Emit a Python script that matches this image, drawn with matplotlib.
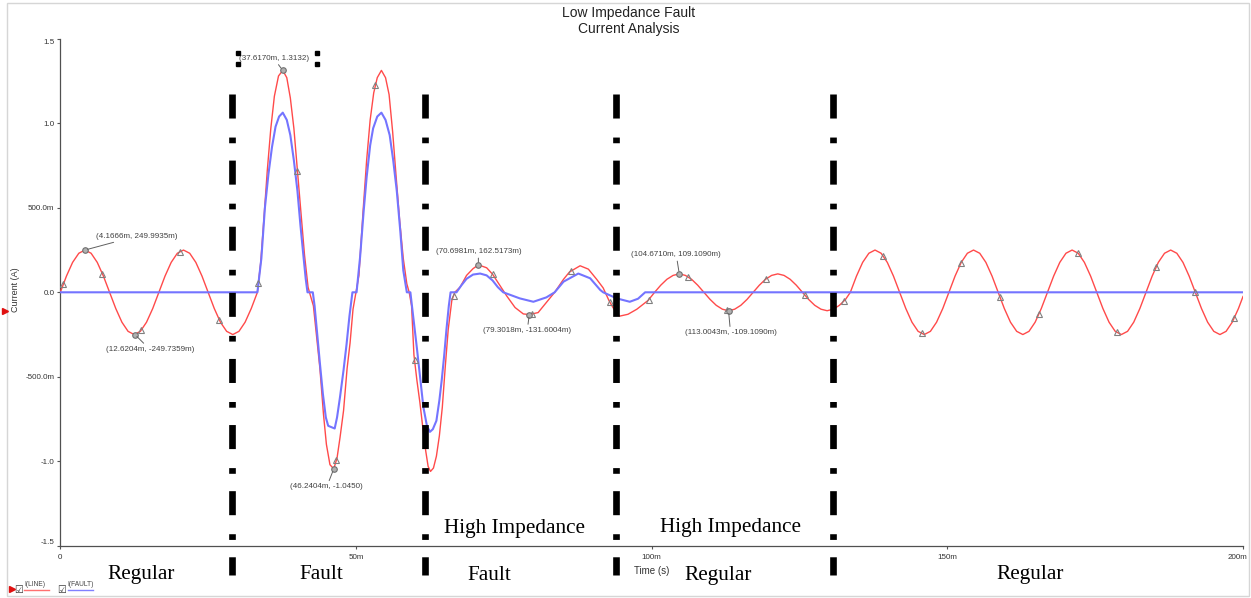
import numpy as np
import matplotlib
matplotlib.use("Agg")
import matplotlib.pyplot as plt
from matplotlib import transforms
from matplotlib.patches import Rectangle
from matplotlib.lines import Line2D

plt.rcParams["lines.scale_dashes"] = False
plt.rcParams["font.family"] = ["Liberation Sans", "DejaVu Sans"]

W, H = 1251, 598

# ---------------- data (time in ms, current in A) ----------------
# I(LINE): pre-fault, fault, post-fault, high impedance, regular
t_line = [0.00, 1.04, 2.08, 3.13, 4.17, 5.21, 6.25, 7.29, 8.33, 9.38, 10.42, 11.46,
          12.50, 13.54, 14.58, 15.63, 16.67, 17.71, 18.75, 19.79, 20.83, 21.88, 22.92,
          23.96, 25.00, 26.04, 27.08, 28.13, 29.17, 30.21, 31.25, 32.29, 33.33,
          33.9, 34.4, 35.0, 35.6, 36.2, 36.9, 37.62, 38.3, 38.9, 39.5, 40.1, 40.7, 41.3,
          41.9, 42.3, 42.8, 43.3, 43.9, 44.5, 45.0, 45.6, 46.24, 46.8, 47.3, 47.9, 48.5,
          49.0, 49.5, 50.0, 50.5, 51.2, 51.8, 52.4, 53.0, 53.6, 54.3, 55.0, 55.6, 56.2,
          56.8, 57.4, 58.0, 58.6, 59.0, 59.4, 59.8, 60.3, 60.8, 61.3, 61.8, 62.2, 62.6,
          63.1, 63.6, 64.1, 64.6, 65.1, 65.6, 66.2, 66.7,
          67.6, 68.7, 69.8, 70.7, 72.1, 73.1, 74.4, 75.5, 76.9, 78.3, 79.3, 80.8, 82.2,
          83.6, 85.1, 86.1, 87.9, 89.3, 90.7, 91.8, 92.8, 93.8, 94.6, 96.0, 97.5, 99.4,
          100.50, 101.54, 102.58, 103.63, 104.67, 105.71, 106.75, 107.79, 108.83, 109.88,
          110.92, 111.96, 113.00, 114.04, 115.08, 116.13, 117.17, 118.21, 119.25, 120.29,
          121.33, 122.38, 123.42, 124.46, 125.50, 126.54, 127.58, 128.63, 129.67, 130.71,
          131.75, 132.79,
          133.60, 134.64, 135.68, 136.73, 137.77, 138.81, 139.85, 140.89, 141.93, 142.98,
          144.02, 145.06, 146.10, 147.14, 148.18, 149.23, 150.27, 151.31, 152.35, 153.39,
          154.43, 155.48, 156.52, 157.56, 158.60, 159.64, 160.68, 161.73, 162.77, 163.81,
          164.85, 165.89, 166.93, 167.98, 169.02, 170.06, 171.10, 172.14, 173.18, 174.23,
          175.27, 176.31, 177.35, 178.39, 179.43, 180.48, 181.52, 182.56, 183.60, 184.64,
          185.68, 186.73, 187.77, 188.81, 189.85, 190.89, 191.93, 192.98, 194.02, 195.06,
          196.10, 197.14, 198.18, 199.23, 200.00]
i_line = [0, .096, .177, .231, .25, .231, .177, .096, 0, -.096, -.177, -.231,
          -.25, -.231, -.177, -.096, 0, .096, .177, .231, .25, .231, .177,
          .096, 0, -.096, -.177, -.231, -.25, -.231, -.177, -.096, 0,
          .18, .42, .72, .97, 1.16, 1.28, 1.313, 1.27, 1.15, .97, .72, .47, .22,
          .03, -.02, -.08, -.25, -.45, -.72, -.90, -1.02, -1.045, -.98, -.86, -.70, -.45,
          -.30, -.10, 0.0, .10, .48, .78, 1.02, 1.18, 1.27, 1.313, 1.27, 1.17, .95,
          .68, .42, .20, .05, 0.0, -.08, -.37, -.52, -.65, -.80, -.94, -1.03, -1.06,
          -1.04, -.97, -.85, -.68, -.44, -.22, -.05, 0.0,
          .03, .10, .14, .1625, .145, .107, .037, -.022, -.09, -.128, -.1316, -.12, -.06,
          0.0, .077, .12, .157, .137, .077, .026, -.05, -.11, -.141, -.13, -.10, -.048,
          0, .042, .077, .10, .1091, .10, .077, .042, 0, -.042,
          -.077, -.10, -.1091, -.10, -.077, -.042, 0, .042, .077, .10,
          .109, .10, .077, .042, 0, -.042, -.077, -.10, -.109, -.10,
          -.077, -.042,
          0, .096, .177, .231, .25, .231, .177, .096, 0, -.096,
          -.177, -.231, -.25, -.231, -.177, -.096, 0, .096, .177, .231,
          .25, .231, .177, .096, 0, -.096, -.177, -.231, -.25, -.231,
          -.177, -.096, 0, .096, .177, .231, .25, .231, .177, .096,
          0, -.096, -.177, -.231, -.25, -.231, -.177, -.096, 0, .096,
          .177, .231, .25, .231, .177, .096, 0, -.096, -.177, -.231,
          -.25, -.231, -.177, -.096, -.025]

# I(FAULT)
t_fault = [0.0, 33.33, 34.0, 34.6, 35.2, 35.8, 36.4, 37.0, 37.62, 38.3, 38.9, 39.5, 40.1,
           40.6, 41.1, 41.5, 41.8, 42.7, 43.0, 43.4, 43.9, 44.4, 44.9, 45.3, 46.4, 46.8,
           47.3, 47.9, 48.4, 48.9, 49.4, 50.1, 50.7, 51.3, 51.8, 52.4, 52.9, 53.6, 54.3,
           55.0, 55.7, 56.3, 56.9, 57.5, 58.0, 58.6, 59.2, 59.6, 60.3, 60.9, 61.4, 62.0,
           62.5, 63.0, 63.6, 64.1, 64.5, 64.9, 65.3, 65.7, 66.0, 67.0, 67.8, 68.7, 69.8,
           71.0, 72.1, 73.1, 74.0, 74.9, 77.7, 80.0, 82.2, 83.6, 85.1, 87.6, 89.6, 91.3,
           91.8, 94.1, 96.3, 97.7, 98.9, 200.0]
i_fault = [0.0, 0.0, .20, .50, .70, .86, .98, 1.04, 1.063, 1.02, .93, .78, .60,
           .40, .22, .08, 0.0, 0.0, -.08, -.23, -.42, -.60, -.74, -.79, -.806, -.74,
           -.62, -.46, -.31, -.14, 0.0, 0.0, .21, .48, .68, .87, .97, 1.04, 1.063,
           1.02, .93, .78, .60, .36, .13, 0.0, 0.0, -.12, -.33, -.52, -.68, -.79,
           -.826, -.81, -.76, -.64, -.52, -.38, -.22, -.08, 0.0, 0.0, .04, .08, .105,
           .111, .10, .07, .03, 0.0, -.036, -.056, -.03, 0.0, .063, .111, .083, .014,
           0.0, -.036, -.056, -.038, 0.0, 0.0]

# probe markers along I(LINE)
marker_t = [0.5, 7.1, 13.7, 20.3, 26.9, 33.5, 40.1, 46.7, 53.3, 59.9, 66.5, 73.1, 79.7,
            86.3, 92.9, 99.5, 106.1, 112.7, 119.3, 125.9, 132.5, 139.1, 145.7, 152.3,
            158.9, 165.5, 172.1, 178.7, 185.3, 191.9, 198.5]

# cursor read-outs
ann_t = [4.1666, 12.6204, 37.6170, 46.2404, 70.6981, 79.3018, 104.6710, 113.0043]
ann_v = [0.2499935, -0.2497359, 1.3132, -1.0450, 0.1625173, -0.1316004, 0.1091090, -0.1091090]
ann_labels = ["(4.1666m, 249.9935m)", "(12.6204m, -249.7359m)", "(37.6170m, 1.3132)",
              "(46.2404m, -1.0450)", "(70.6981m, 162.5173m)", "(79.3018m, -131.6004m)",
              "(104.6710m, 109.1090m)", "(113.0043m, -109.1090m)"]
ann_offsets = [(52, 14), (15, -15), (-9, 12), (-7, -18), (0, 13), (-2, -16), (-3, 19), (2, -22)]

boundary_t = [29.1, 61.6, 94.0, 130.6]
region_labels = ["Regular", "Fault", "Fault", "High Impedance", "High Impedance",
                 "Regular", "Regular"]
region_pos = [(141, 579), (321, 579), (489, 580), (515, 533), (731, 532), (718, 580), (1030, 579)]

yticks = [-1.5, -1.0, -0.5, 0.0, 0.5, 1.0, 1.5]
ytick_labels = ["-1.5", "-1.0", "-500.0m", "0.0", "500.0m", "1.0", "1.5"]
xticks = [0, 50, 100, 150, 200]
xtick_labels = ["0", "50m", "100m", "150m", "200m"]

RED = "#ff4a4a"
BLUE = "#7474ff"

# ---------------- figure ----------------
fig = plt.figure(figsize=(W / 100, H / 100), dpi=100)
fig.patch.set_facecolor("white")


def fx(x):
    return x / W


def fy(y):
    return 1 - y / H


# light frame around the window
fig.add_artist(Rectangle((fx(7), fy(596)), fx(1249) - fx(7), fy(3) - fy(596),
                         transform=fig.transFigure, fill=False, ec="#d6d6d6", lw=1.0))

ax_l, ax_r, ax_t, ax_b = 60.3, 1243.0, 38.8, 545.8
ax = fig.add_axes([fx(ax_l), fy(ax_b), (ax_r - ax_l) / W, (ax_b - ax_t) / H])
ax.set_xlim(0, 200)
ax.set_ylim(-1.5, 1.5)
for s in ("top", "right"):
    ax.spines[s].set_visible(False)
for s in ("left", "bottom"):
    ax.spines[s].set_color("#505050")
    ax.spines[s].set_linewidth(0.9)

ax.plot(t_line, i_line, color=RED, lw=1.0, zorder=3)
ax.plot(t_fault, i_fault, color=BLUE, lw=1.5, zorder=4)

mk_v = np.interp(marker_t, t_line, i_line)
ax.plot(marker_t, mk_v, ls="none", marker="^", ms=4, mfc="none", mec="#808080", mew=0.8, zorder=5)
ax.plot(ann_t, ann_v, ls="none", marker="o", ms=4, mfc="#b0b0b0", mec="#707070", mew=0.8, zorder=5)

for t, v, lab, (dx, dy) in zip(ann_t, ann_v, ann_labels, ann_offsets):
    ax.annotate(lab, xy=(t, v), xytext=(dx, dy), textcoords="offset pixels",
                ha="center", va="center", fontsize=5.8, color="#404040",
                arrowprops=dict(arrowstyle="-", color="#606060", lw=0.7, shrinkA=0, shrinkB=2),
                zorder=6)

# selection handles around the 37.6170m read-out
for hx in (-44.5, 33.9):
    for hy in (17.0, 6.5):
        tr = transforms.offset_copy(ax.transData, fig=fig, x=hx, y=hy, units="dots")
        ax.plot([ann_t[2]], [ann_v[2]], marker="s", ms=3, color="black", transform=tr,
                clip_on=False, zorder=7)

ax.set_yticks(yticks)
ax.set_yticklabels(ytick_labels)
ax.set_xticks(xticks)
ax.set_xticklabels(xtick_labels)
ax.tick_params(axis="both", direction="out", length=2.2, width=0.8, color="#555555",
               labelsize=5.8, labelcolor="#333333")
ax.tick_params(axis="y", pad=2)
ax.tick_params(axis="x", pad=3.5)
yl = ax.get_yticklabels()
yl[0].set_va("bottom")
yl[-1].set_va("top")
xl = ax.get_xticklabels()
xl[-1].set_ha("right")
xl[-1].set_transform(xl[-1].get_transform() +
                     transforms.ScaledTranslation(4 / 100, 0, fig.dpi_scale_trans))

# region boundaries (dash-dot)
blend = transforms.blended_transform_factory(ax.transData, ax.transAxes)
y_top = (ax_b - 94) / (ax_b - ax_t)
y_bot = (ax_b - 575) / (ax_b - ax_t)
for tb in boundary_t:
    ax.plot([tb, tb], [y_top, y_bot], transform=blend, color="black", lw=4.8,
            ls=(0, (17.3, 13.7, 4.1, 12.5)), dash_capstyle="butt", solid_capstyle="butt",
            clip_on=False, zorder=10)

# titles and axis labels
fig.text(fx(629), fy(17.3), "Low Impedance Fault", ha="center", va="baseline",
         fontsize=10, color="#222222")
fig.text(fx(629), fy(33.3), "Current Analysis", ha="center", va="baseline",
         fontsize=10, color="#222222")
fig.text(fx(15), fy(290), "Current (A)", rotation=90, ha="center", va="center",
         fontsize=6.5, color="#333333")
fig.text(fx(652), fy(571), "Time (s)", ha="center", va="center", fontsize=7, color="#333333")

for lab, (px, py) in zip(region_labels, region_pos):
    fig.text(fx(px), fy(py), lab, ha="center", va="baseline", fontsize=15.3,
             family=["Liberation Serif", "DejaVu Serif"], color="black")

# legend area (bottom-left)
fig.add_artist(Line2D([fx(4.5)], [fy(311)], marker=">", ms=5, color="#e01010",
                      transform=fig.transFigure))
fig.add_artist(Line2D([fx(12)], [fy(589)], marker=">", ms=4, color="#e01010",
                      transform=fig.transFigure))
for cx in (18.3, 62.0):
    fig.text(fx(cx), fy(589.5), "\u2611", ha="center", va="center", fontsize=7,
             family=["DejaVu Sans"], color="#333333")
fig.text(fx(24), fy(584), "I(LINE)", ha="left", va="center", fontsize=4.8, color="#444444")
fig.text(fx(67.7), fy(584), "I(FAULT)", ha="left", va="center", fontsize=4.8, color="#444444")
fig.add_artist(Line2D([fx(24), fx(49.3)], [fy(589.5), fy(589.5)], color="#ff7070", lw=1.0,
                      transform=fig.transFigure))
fig.add_artist(Line2D([fx(67.7), fx(92.7)], [fy(589.5), fy(589.5)], color="#8080ff", lw=1.0,
                      transform=fig.transFigure))

fig.savefig("out.png", dpi=100)
